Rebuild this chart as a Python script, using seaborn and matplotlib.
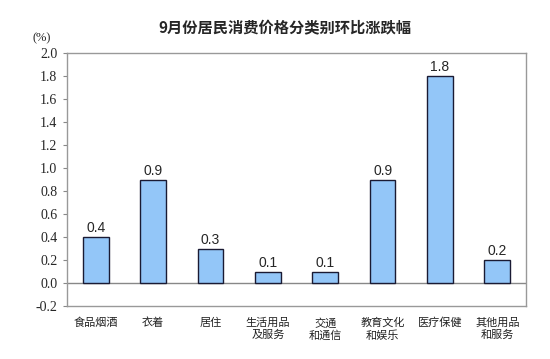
import matplotlib
matplotlib.use("Agg")
import matplotlib.pyplot as plt
import seaborn as sns
import pandas as pd

# -----------------------------
# Data
# -----------------------------
categories = ["食品烟酒", "衣着", "居住", "生活用品\n及服务", "交通\n和通信",
              "教育文化\n和娱乐", "医疗保健", "其他用品\n和服务"]
values = [0.4, 0.9, 0.3, 0.1, 0.1, 0.9, 1.8, 0.2]
yticks = [-0.2, 0.0, 0.2, 0.4, 0.6, 0.8, 1.0, 1.2, 1.4, 1.6, 1.8, 2.0]

df = pd.DataFrame({"cat": categories, "val": values})

sns.set_style("white")
plt.rcParams["font.family"] = ["Noto Sans CJK SC", "DejaVu Sans"]

fig = plt.figure(figsize=(5.5, 3.59), dpi=100)
ax = fig.add_axes([67 / 550, 1 - 306 / 359, (526 - 67) / 550, (306 - 53) / 359])

sns.barplot(data=df, x="cat", y="val", color="#93C6F8", edgecolor="#1a1a33",
            linewidth=1.0, width=0.45, saturation=1, ax=ax)

ax.set_ylim(-0.2, 2.0)
ax.set_xlim(-0.5, len(categories) - 0.5)
ax.axhline(0, color="#888888", linewidth=1.0, zorder=0)

# value labels
for i, v in enumerate(values):
    ax.text(i, v + 0.015, f"{v:.1f}", ha="center", va="bottom",
            fontsize=10, family="Liberation Sans")

ax.set_yticks(yticks)
ax.set_yticklabels([f"{t:.1f}" for t in yticks])
for lab in ax.get_yticklabels():
    lab.set_fontfamily("Liberation Serif")
    lab.set_fontsize(10)
ax.tick_params(axis="y", left=True, length=3, width=0.8, color="#888888", pad=4)
ax.tick_params(axis="x", bottom=False, labelsize=8, pad=5, labelcolor="#222222")
ax.set_xlabel("")
ax.set_ylabel("")

for s in ax.spines.values():
    s.set_color("#999999")
    s.set_linewidth(1.0)

fig.text(285 / 550, 1 - 28 / 359, "9月份居民消费价格分类别环比涨跌幅",
         ha="center", va="center", fontsize=11, fontweight="bold")
fig.text(42 / 550, 1 - 38 / 359, "(%)", ha="center", va="center",
         fontsize=9, family="Liberation Serif")

fig.savefig("out.png", dpi=100)
